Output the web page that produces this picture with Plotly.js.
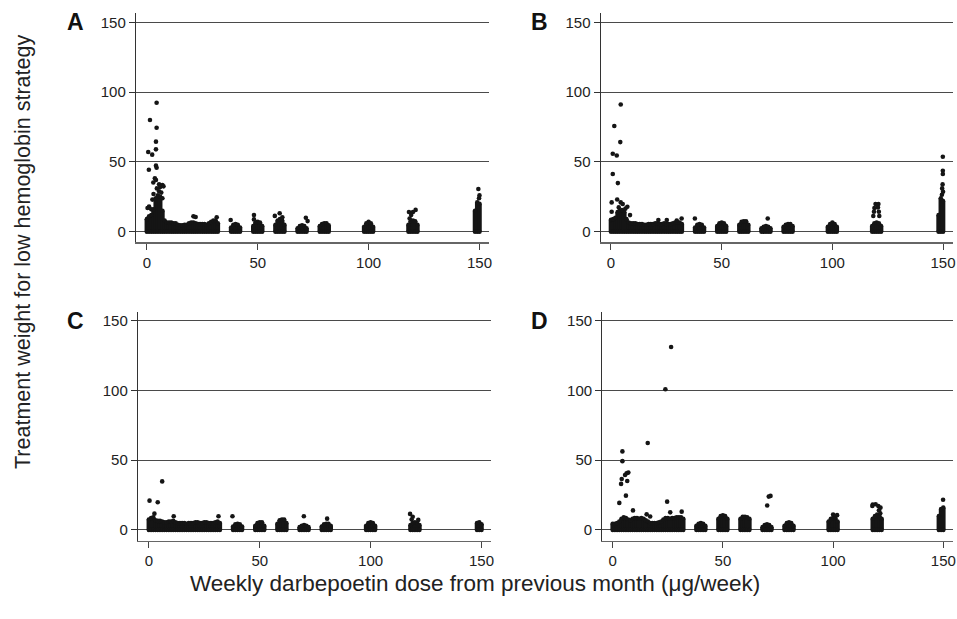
<!DOCTYPE html>
<html>
<head>
<meta charset="utf-8">
<script src="https://cdn.plot.ly/plotly-3.0.1.min.js"></script>
<style>
  html, body { margin: 0; padding: 0; background: #fff; }
  #chart { width: 957px; height: 619px; }
</style>
</head>
<body>
<div id="chart"></div>
<script>
// Dense dose columns (weekly dose, µg/week) where points pile up into solid bands
const columnDoses = [
  0,1,2,3,4,5,6,7,8,9,10,11,12,13,14,15,16,17,18,19,20,21,22,23,24,25,26,27,28,29,30,31,32,
  38,39,40,41,42,
  48,49,50,51,52,
  58,59,60,61,62,
  68,69,70,71,72,
  78,79,80,81,82,
  98,99,100,101,102,
  118,119,120,121,122,
  148,149,150
];

// Upper edge of the dense band of treatment weights in each column, per panel
const bandTopA = [
  9,11,12,16,24,26,25,15,8, 6.5,6.5,6.5,6,6,5,4.5,4.5,5,5,6,6.5,6.5,6,5.5,5.5,5.5,5.5,5,6,7,8,8,6,
  3,5,5.5,5,3,
  4,6.5,7,6.5,4,
  5,8,9,8,5,
  2.5,4,4.5,4,2.5,
  4,5.5,6,6,4.5,
  3.5,6,7,6,3.5,
  5,7.5,8,7.5,5,
  15,21,20
];
const bandTopB = [
  8.5,9,10,14,15,15,14,9,6.5, 6,6,6,5.5,5.5,5.5,5,5,5.5,5.5,5.5,6,6,5.5,5.5,6,5.5,5.5,5.5,6,6.5,6.5,6.5,5.5,
  3,5,5.5,5,3,
  4,6,6.5,6,4,
  5,7,7.5,7.5,5,
  2.5,3.5,4,3.5,2.5,
  3.5,5,5.5,5.5,4,
  3.5,5.5,6.5,5.5,3.5,
  4,6,6.5,6,4,
  12,24,22
];
const bandTopC = [
  7.5,8.5,9,7,6.5,6.5,6,5.5,5.5, 6,6,6.5,5.5,5,5,5,5,4.5,5,5,5,5.5,5.5,5,5,5.5,5.5,5,5,5,5.5,6,5,
  2.5,4,4.5,4,2.5,
  3,5,5.5,5.5,3,
  4.5,7,7.5,7.5,5,
  2,3,3.5,3,2,
  2.5,4,4.5,4.5,3,
  3,5,5.5,5,3,
  3.5,5,5.5,5,3.5,
  5,5.5,4
];
const bandTopD = [
  4.5,4.5,5,6,8,9,8.5,7.5,7, 8,8.5,8.5,8,8.5,8,7,6,5,5,5,5,5.5,6,7.5,8.5,8.5,8,8.5,8.5,9,9,9,8,
  3,4.5,5,4.5,3,
  8,10,10.5,10,8,
  8,9.5,9.5,9,8,
  2,3.5,4,3.5,2,
  3,5,5.5,5,3,
  6,8,8.5,8.5,6,
  8,10,11,10,8,
  10,15,16
];

// Isolated points above the dense bands
const outX_A = [4.4,1.4,4.4,4.1,4.1,0.6,2.4,4.1,4.4,0.9,3.6,4.1,2.9,5.5,7,6,4.5,7.5,5.5,6.5,3,7,2.5,1,0.3,2,21,22,31.5,37.8,48.3,48.3,57.7,59.9,61.1,71.7,72.5,118.2,120,121.2,119.2,118.5,149.5,149.8,150];
const outY_A = [92.4,80,74.5,64.5,59,57.1,55.2,47.3,45.8,44.4,38.2,37,35.2,34,33.5,32,31,32.5,29,28,27,24,23,18,17,16,11,10.5,10.3,8.4,11.9,8.8,11.3,13.2,10.3,10,7.6,14.1,14.1,15.6,12,9.5,30.6,24,26];

const outX_B = [4.4,1.5,4.2,0.8,2.6,0.8,3.1,0.3,2.8,4.4,5.3,7.4,0.3,8.6,3.5,5,6.5,21.4,25.2,29.7,31.9,37.9,70.8,119.5,120.8,119,120.6,118.8,121,118.5,121.2,149.9,149.9,149.9,149.8,149.6,150,149.5];
const outY_B = [91.1,75.7,64.2,55.8,54.6,41.3,34.8,21,23.1,21,19.8,17.9,14.3,11.9,17.4,15.5,16.5,8.4,8.4,7.9,9.5,9.5,9.5,19.8,19.8,17,17.4,14.3,14.3,11.2,11.2,53.7,43.7,41.3,33.9,31,28.6,26.5];

const outX_C = [6.0,0.3,4.0,2.5,11.2,31.4,37.7,69.9,80.4,117.8,119,121.5,118.5];
const outY_C = [34.8,21,19.8,11.7,9.8,9.8,9.8,9.8,8.1,11.5,9.5,7.2,7.5];

const outX_D = [26.5,23.9,15.9,4.4,4.4,6.3,7.1,5.6,4.1,6.6,3.8,6.0,3.0,24.7,26.1,9.2,31.3,15.4,17,70.1,70.8,71.6,149.9,118,119.3,120.5,121.5,117.8,120.8,121.4,100,101.8];
const outY_D = [131.1,100.8,62.3,56.3,49.3,40.6,41.1,39.4,36.5,35.1,33,24.6,19.4,20.3,12.6,14,13.1,11.2,9.6,17.5,23.9,24.4,21.6,18.2,18.4,17.2,16,17.2,14.1,11.9,11,10.6];

const panelLetters = ['A','B','C','D'];
const xTicks = [0, 50, 100, 150];
const yTicks = [0, 50, 100, 150];
const xTitle = 'Weekly darbepoetin dose from previous month (\u03bcg/week)';
const yTitle = 'Treatment weight for low hemoglobin strategy';

const INK = '#151515';
const MS = 4.6;

function bandTrace(tops, xa, ya) {
  const x = [], y = [];
  for (let i = 0; i < columnDoses.length; i++) {
    x.push(columnDoses[i], columnDoses[i], null);
    y.push(0, tops[i], null);
  }
  return {
    type: 'scatter', mode: 'lines+markers', x: x, y: y, xaxis: xa, yaxis: ya,
    line: {color: INK, width: MS}, marker: {color: INK, size: MS},
    hoverinfo: 'skip', showlegend: false, connectgaps: false
  };
}
function pointTrace(xs, ys, xa, ya) {
  return {
    type: 'scatter', mode: 'markers', x: xs, y: ys, xaxis: xa, yaxis: ya,
    marker: {color: INK, size: MS}, hoverinfo: 'skip', showlegend: false
  };
}

const data = [
  bandTrace(bandTopA, 'x', 'y'),   pointTrace(outX_A, outY_A, 'x', 'y'),
  bandTrace(bandTopB, 'x2', 'y2'), pointTrace(outX_B, outY_B, 'x2', 'y2'),
  bandTrace(bandTopC, 'x3', 'y3'), pointTrace(outX_C, outY_C, 'x3', 'y3'),
  bandTrace(bandTopD, 'x4', 'y4'), pointTrace(outX_D, outY_D, 'x4', 'y4')
];

const W = 957, H = 619;
const FONT = 'Liberation Sans, Arial, Helvetica, sans-serif';

function xAxis(px0, px1, anchor, r) {
  return {
    domain: [px0 / W, px1 / W], anchor: anchor, range: r,
    tickvals: xTicks, ticktext: xTicks.map(String),
    ticks: 'outside', ticklen: 6, tickwidth: 1, tickcolor: '#444',
    showline: true, linecolor: '#666', linewidth: 1.5,
    showgrid: false, zeroline: false, ticklabeloverflow: 'allow',
    tickfont: {family: FONT, size: 15, color: '#222'}, fixedrange: true
  };
}
function yAxis(pyTop, pyBot, anchor, r) {
  return {
    domain: [(H - pyBot) / H, (H - pyTop) / H], anchor: anchor, range: r,
    tickvals: yTicks, ticktext: yTicks.map(String),
    ticks: 'outside', ticklen: 6, tickwidth: 1, tickcolor: '#333',
    showline: true, linecolor: '#333', linewidth: 1.2,
    showgrid: true, gridcolor: '#4a4a4a', gridwidth: 1, zeroline: false,
    tickfont: {family: FONT, size: 15, color: '#222'}, fixedrange: true
  };
}

const layout = {
  width: W, height: H,
  margin: {l: 0, r: 0, t: 0, b: 0},
  paper_bgcolor: '#fff', plot_bgcolor: '#fff',
  showlegend: false, hovermode: false,
  font: {family: FONT, color: '#222'},
  xaxis:  xAxis(136, 489, 'y', [-4.9, 154.3]),
  xaxis2: xAxis(600.7, 953, 'y2', [-4.65, 154.5]),
  xaxis3: xAxis(138, 491, 'y3', [-4.9, 154.3]),
  xaxis4: xAxis(602.3, 953, 'y4', [-4.72, 154.4]),
  yaxis:  yAxis(12.7, 242.3, 'x', [-7.6, 156.9]),
  yaxis2: yAxis(12.7, 242.3, 'x2', [-7.6, 156.9]),
  yaxis3: yAxis(311.7, 540.7, 'x3', [-7.7, 156.4]),
  yaxis4: yAxis(311.7, 540.7, 'x4', [-7.7, 156.4]),
  annotations: [
    {text: '<b>' + panelLetters[0] + '</b>', x: 75 / W, y: (H - 22) / H},
    {text: '<b>' + panelLetters[1] + '</b>', x: 539 / W, y: (H - 22) / H},
    {text: '<b>' + panelLetters[2] + '</b>', x: 75 / W, y: (H - 321) / H},
    {text: '<b>' + panelLetters[3] + '</b>', x: 539 / W, y: (H - 321) / H}
  ].map(a => Object.assign(a, {xref: 'paper', yref: 'paper', showarrow: false,
      xanchor: 'center', yanchor: 'middle', font: {family: FONT, size: 23, color: '#111'}}))
  .concat([
    {text: yTitle, x: 23 / W, y: (H - 252) / H, textangle: -90,
     xref: 'paper', yref: 'paper', showarrow: false, xanchor: 'center', yanchor: 'middle',
     font: {family: FONT, size: 21.5, color: '#222'}},
    {text: xTitle, x: 475 / W, y: (H - 583) / H,
     xref: 'paper', yref: 'paper', showarrow: false, xanchor: 'center', yanchor: 'middle',
     font: {family: FONT, size: 22.5, color: '#222'}}
  ])
};

Plotly.newPlot('chart', data, layout, {staticPlot: true, displayModeBar: false});
</script>
</body>
</html>
